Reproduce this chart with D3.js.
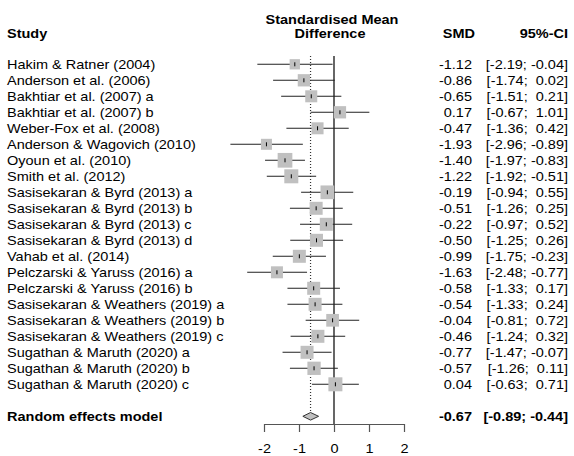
<!DOCTYPE html>
<html>
<head>
<meta charset="utf-8">
<script src="https://cdn.jsdelivr.net/npm/d3@7"></script>
<style>
  body { margin: 0; background: #fff; }
  text { font-family: "Liberation Sans", Arial, sans-serif; white-space: pre; }
</style>
</head>
<body>
<svg id="canvas" width="574" height="456"></svg>
<script>
// forest plot data
let studies = [
    'Hakim & Ratner (2004)', 'Anderson et al. (2006)', 'Bakhtiar et al. (2007) a',
    'Bakhtiar et al. (2007) b', 'Weber-Fox et al. (2008)', 'Anderson & Wagovich (2010)',
    'Oyoun et al. (2010)', 'Smith et al. (2012)', 'Sasisekaran & Byrd (2013) a',
    'Sasisekaran & Byrd (2013) b', 'Sasisekaran & Byrd (2013) c', 'Sasisekaran & Byrd (2013) d',
    'Vahab et al. (2014)', 'Pelczarski & Yaruss (2016) a', 'Pelczarski & Yaruss (2016) b',
    'Sasisekaran & Weathers (2019) a', 'Sasisekaran & Weathers (2019) b', 'Sasisekaran & Weathers (2019) c',
    'Sugathan & Maruth (2020) a', 'Sugathan & Maruth (2020) b', 'Sugathan & Maruth (2020) c'
]
let smd   = [-1.12, -0.86, -0.65, 0.17, -0.47, -1.93, -1.40, -1.22, -0.19, -0.51, -0.22, -0.50, -0.99, -1.63, -0.58, -0.54, -0.04, -0.46, -0.77, -0.57, 0.04]
let lower = [-2.19, -1.74, -1.51, -0.67, -1.36, -2.96, -1.97, -1.92, -0.94, -1.26, -0.97, -1.25, -1.75, -2.48, -1.33, -1.33, -0.81, -1.24, -1.47, -1.26, -0.63]
let upper = [-0.04, 0.02, 0.21, 1.01, 0.42, -0.89, -0.83, -0.51, 0.55, 0.25, 0.52, 0.26, -0.23, -0.77, 0.17, 0.24, 0.72, 0.32, -0.07, 0.11, 0.71]
// square side (weight) in px as it looks in the picture
let sqSize = [10.3, 12.3, 12, 12.3, 12, 11, 14.7, 14, 13.7, 13, 13, 13, 13, 12, 13, 13, 12.7, 13, 13, 13.3, 14]

let poolLabel = 'Random effects model'
let poolSmd = -0.67
let poolLower = -0.89
let poolUpper = -0.44

let xTicks = [-2, -1, 0, 1, 2]

let canvas = d3.select('#canvas')

let x = d3.scaleLinear().domain([-2, 2]).range([264, 404])
let y = d3.scaleLinear().domain([0, 22]).range([64.3, 416.3])
let poolRow = 22
let axisY = 424
let plotTop = 56

let fs = 12, sx = 1.21   // text in the picture is stretched sideways

let txt = (x0, y0, s, anchor, bold) => {
    return canvas.append('text')
        .attr('transform', 'translate(' + x0 + ',' + y0 + ') scale(' + sx + ',1)')
        .attr('text-anchor', anchor || 'start')
        .attr('font-size', fs)
        .attr('font-weight', bold ? 'bold' : 'normal')
        .attr('fill', '#000')
        .text(s)
}

// plain hyphen minus like the original, not d3's unicode minus
let fmt = (v) => v.toFixed(2)
let ciText = (lo, hi) => '[' + fmt(lo) + ';' + (hi < 0 ? ' ' : '  ') + fmt(hi) + ']'

// headers
txt(7, 38, 'Study', 'start', true)
txt(332, 24, 'Standardised Mean', 'middle', true)
txt(330, 38, 'Difference', 'middle', true)
txt(475, 38, 'SMD', 'end', true)
txt(568, 38, '95%-CI', 'end', true)

// reference lines
canvas.append('line')
    .attr('x1', x(0)).attr('x2', x(0))
    .attr('y1', plotTop).attr('y2', axisY)
    .attr('stroke', '#000').attr('stroke-width', 1.2)
canvas.append('line')
    .attr('x1', x(poolSmd)).attr('x2', x(poolSmd))
    .attr('y1', plotTop).attr('y2', y(poolRow) - 4)
    .attr('stroke', '#333').attr('stroke-width', 1.2)
    .attr('stroke-dasharray', '1,2')

// study rows
let rows = canvas.selectAll('g.row')
    .data(studies)
    .enter()
    .append('g')
    .attr('class', 'row')

rows.append('line')
    .attr('x1', (d, i) => x(lower[i]))
    .attr('x2', (d, i) => x(upper[i]))
    .attr('y1', (d, i) => y(i))
    .attr('y2', (d, i) => y(i))
    .attr('stroke', '#222').attr('stroke-width', 1.1)

rows.append('rect')
    .attr('x', (d, i) => x(smd[i]) - sqSize[i] / 2)
    .attr('y', (d, i) => y(i) - sqSize[i] / 2)
    .attr('width', (d, i) => sqSize[i])
    .attr('height', (d, i) => sqSize[i])
    .attr('fill', '#c0c0c0')

rows.append('line')
    .attr('x1', (d, i) => x(smd[i]))
    .attr('x2', (d, i) => x(smd[i]))
    .attr('y1', (d, i) => y(i) - 2)
    .attr('y2', (d, i) => y(i) + 2)
    .attr('stroke', '#000').attr('stroke-width', 1)

studies.forEach((s, i) => {
    txt(7, y(i) + 4.8, s)
    txt(472, y(i) + 4.8, fmt(smd[i]), 'end')
    txt(568, y(i) + 4.8, ciText(lower[i], upper[i]), 'end')
})

// pooled estimate
let py = y(poolRow)
canvas.append('path')
    .attr('d', 'M' + x(poolLower) + ',' + py +
               'L' + x(poolSmd) + ',' + (py - 3.8) +
               'L' + x(poolUpper) + ',' + py +
               'L' + x(poolSmd) + ',' + (py + 3.8) + 'Z')
    .attr('fill', '#c0c0c0')
    .attr('stroke', '#333').attr('stroke-width', 1)

txt(7, py + 4.8, poolLabel, 'start', true)
txt(472, py + 4.8, fmt(poolSmd), 'end', true)
txt(568, py + 4.8, ciText(poolLower, poolUpper), 'end', true)

// axis
let axis = canvas.append('g')
    .attr('transform', 'translate(0,' + axisY + ')')
    .attr('color', '#555')
    .call(d3.axisBottom(x).tickValues(xTicks).tickSize(8).tickSizeOuter(0).tickFormat(d => String(d)))
axis.select('.domain').attr('stroke-width', 1.2)
axis.selectAll('.tick line').attr('stroke-width', 1.2)
axis.selectAll('.tick text')
    .attr('y', 29).attr('dy', null)
    .attr('fill', '#000')
    .attr('font-size', fs)
    .attr('font-family', '"Liberation Sans", Arial, sans-serif')
    .attr('transform', 'scale(' + sx + ',1)')
</script>
</body>
</html>
